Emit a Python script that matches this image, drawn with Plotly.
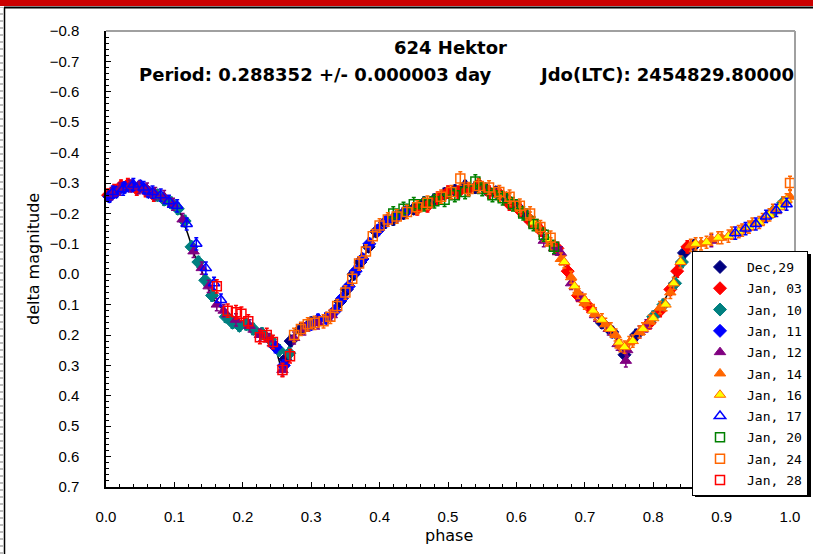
import plotly.graph_objects as go

# ---- light-curve data (phase, delta magnitude) per night ----
dec29_phase = [0.262, 0.27, 0.285, 0.30, 0.342, 0.352, 0.362, 0.372, 0.384, 0.395, 0.408, 0.42, 0.435, 0.45, 0.465,
               0.48, 0.495, 0.51, 0.525, 0.54, 0.555, 0.57, 0.585, 0.60, 0.615, 0.725, 0.74, 0.758, 0.775, 0.845, 0.86]
dec29_mag = [0.28, 0.22, 0.18, 0.16, 0.09, 0.05, 0.00, -0.04, -0.09, -0.14, -0.17, -0.18, -0.20, -0.215, -0.235,
             -0.245, -0.265, -0.275, -0.29, -0.285, -0.28, -0.27, -0.25, -0.225, -0.19, 0.16, 0.19, 0.265, 0.20, -0.07, -0.095]

jan03_phase = [0.003, 0.012, 0.022, 0.032, 0.045, 0.058, 0.07, 0.455, 0.47, 0.485, 0.50, 0.515, 0.53, 0.545, 0.56,
               0.575, 0.59, 0.605, 0.62, 0.635, 0.66, 0.675, 0.69, 0.705, 0.795, 0.81, 0.825, 0.835, 0.85]
jan03_mag = [-0.26, -0.275, -0.29, -0.295, -0.28, -0.275, -0.26, -0.215, -0.225, -0.25, -0.27, -0.27, -0.28, -0.295, -0.27,
             -0.265, -0.23, -0.21, -0.175, -0.145, -0.085, -0.01, 0.07, 0.105, 0.16, 0.12, 0.05, -0.01, -0.09]

jan10_phase = [0.075, 0.085, 0.095, 0.105, 0.115, 0.125, 0.135, 0.145, 0.155, 0.175, 0.185, 0.195, 0.205, 0.215,
               0.228, 0.24, 0.253, 0.268, 0.80, 0.815, 0.832, 0.842, 0.975, 0.99]
jan10_mag = [-0.26, -0.245, -0.235, -0.215, -0.175, -0.09, -0.04, 0.02, 0.07, 0.14, 0.16, 0.17, 0.165, 0.18,
             0.195, 0.215, 0.25, 0.26, 0.14, 0.10, 0.03, -0.04, -0.205, -0.235]

jan11_phase = [0.005, 0.015, 0.027, 0.038, 0.05, 0.062, 0.248, 0.26, 0.30, 0.31, 0.322, 0.335, 0.345, 0.355, 0.365,
               0.375, 0.385, 0.398, 0.41, 0.425, 0.44]
jan11_mag = [-0.255, -0.27, -0.285, -0.29, -0.29, -0.27, 0.24, 0.30, 0.165, 0.15, 0.145, 0.12, 0.08, 0.04, -0.01,
             -0.05, -0.10, -0.145, -0.175, -0.19, -0.21]

jan12_phase = [0.008, 0.02, 0.035, 0.048, 0.06, 0.072, 0.085, 0.098, 0.112, 0.128, 0.14, 0.15, 0.162, 0.172, 0.19,
               0.21, 0.225, 0.238, 0.258, 0.275, 0.29, 0.31, 0.33, 0.64, 0.655, 0.665, 0.68, 0.695, 0.715, 0.735,
               0.748, 0.762, 0.76, 0.78, 0.79, 0.885]
jan12_mag = [-0.265, -0.28, -0.29, -0.285, -0.28, -0.265, -0.255, -0.23, -0.18, -0.075, -0.02, 0.04, 0.10, 0.12, 0.15,
             0.17, 0.20, 0.215, 0.315, 0.21, 0.18, 0.16, 0.135, -0.11, -0.085, -0.07, 0.03, 0.08, 0.135, 0.18,
             0.23, 0.25, 0.285, 0.19, 0.17, -0.11]

jan14_phase = [0.575, 0.59, 0.605, 0.62, 0.63, 0.65, 0.665, 0.68, 0.69, 0.70, 0.715, 0.73, 0.745, 0.752, 0.765, 0.78,
               0.795, 0.81, 0.825, 0.855, 0.87, 0.885, 0.90, 0.915, 0.93, 0.945, 0.96, 0.975, 0.99, 1.0]
jan14_mag = [-0.26, -0.245, -0.215, -0.185, -0.16, -0.10, -0.05, 0.01, 0.06, 0.095, 0.13, 0.165, 0.20, 0.235, 0.225, 0.19,
             0.155, 0.11, 0.06, -0.095, -0.10, -0.115, -0.12, -0.135, -0.145, -0.165, -0.18, -0.21, -0.235, -0.255]

jan16_phase = [0.625, 0.645, 0.67, 0.685, 0.70, 0.712, 0.725, 0.738, 0.75, 0.758, 0.77, 0.785, 0.80, 0.818, 0.83,
               0.84, 0.862, 0.878, 0.895, 0.91, 0.925, 0.94, 0.955, 0.97, 0.985, 0.995]
jan16_mag = [-0.17, -0.115, -0.04, 0.04, 0.085, 0.12, 0.15, 0.18, 0.225, 0.24, 0.22, 0.18, 0.145, 0.10, 0.03,
             -0.04, -0.10, -0.105, -0.12, -0.125, -0.14, -0.155, -0.17, -0.195, -0.22, -0.245]

jan17_phase = [0.01, 0.025, 0.04, 0.055, 0.068, 0.08, 0.092, 0.104, 0.118, 0.132, 0.146, 0.158, 0.168,
               0.92, 0.935, 0.95, 0.965, 0.98, 0.995]
jan17_mag = [-0.27, -0.28, -0.295, -0.285, -0.27, -0.26, -0.24, -0.225, -0.165, -0.10, -0.02, 0.03, 0.085,
             -0.135, -0.15, -0.165, -0.19, -0.21, -0.23]

jan20_phase = [0.42, 0.435, 0.45, 0.465, 0.48, 0.495, 0.51, 0.525, 0.54, 0.55, 0.565, 0.58, 0.595, 0.61, 0.625, 0.64, 0.655]
jan20_mag = [-0.20, -0.215, -0.23, -0.23, -0.24, -0.245, -0.26, -0.27, -0.305, -0.28, -0.26, -0.25, -0.23, -0.20, -0.165, -0.13, -0.09]

jan24_phase = [0.275, 0.285, 0.295, 0.305, 0.318, 0.328, 0.338, 0.35, 0.36, 0.37, 0.38, 0.39, 0.40, 0.412, 0.425,
               0.44, 0.455, 0.47, 0.49, 0.505, 0.518, 0.53, 0.545, 0.56, 0.575, 0.59, 0.605, 0.62, 0.635, 0.65, 1.0]
jan24_mag = [0.20, 0.18, 0.165, 0.16, 0.155, 0.14, 0.105, 0.06, 0.015, -0.035, -0.075, -0.125, -0.16, -0.18, -0.19,
             -0.205, -0.22, -0.235, -0.255, -0.27, -0.315, -0.28, -0.29, -0.285, -0.27, -0.255, -0.225, -0.20, -0.155, -0.12, -0.30]

jan28_phase = [0.162, 0.178, 0.19, 0.198, 0.208, 0.225, 0.235, 0.244, 0.258, 0.269]
jan28_mag = [0.04, 0.12, 0.125, 0.13, 0.155, 0.207, 0.20, 0.223, 0.315, 0.27]

# per-night photometric error (mag)
night_err = [0.018, 0.02, 0.018, 0.018, 0.02, 0.02, 0.02, 0.02, 0.022, 0.022, 0.022]

# fitted Fourier curve sampled in phase
fit_phase = [0.00, 0.01, 0.02, 0.03, 0.04, 0.05, 0.06, 0.07, 0.08, 0.09, 0.10, 0.11, 0.12, 0.13, 0.14, 0.15, 0.16,
             0.17, 0.18, 0.19, 0.20, 0.21, 0.22, 0.23, 0.24, 0.25, 0.255, 0.26, 0.265, 0.27, 0.28, 0.29, 0.30, 0.31,
             0.32, 0.33, 0.34, 0.35, 0.36, 0.37, 0.38, 0.39, 0.40, 0.41, 0.42, 0.43, 0.44, 0.45, 0.46, 0.47, 0.48,
             0.49, 0.50, 0.51, 0.52, 0.53, 0.54, 0.55, 0.56, 0.57, 0.58, 0.59, 0.60, 0.61, 0.62, 0.63, 0.64, 0.65,
             0.66, 0.67, 0.68, 0.69, 0.70, 0.71, 0.72, 0.73, 0.74, 0.75, 0.755, 0.76, 0.77, 0.78, 0.79, 0.80, 0.81,
             0.82, 0.83, 0.84, 0.85, 0.86, 0.87, 0.88, 0.89, 0.90, 0.91, 0.92, 0.93, 0.94, 0.95, 0.96, 0.97, 0.98,
             0.99, 1.00]
fit_mag = [-0.25, -0.27, -0.28, -0.29, -0.29, -0.285, -0.275, -0.265, -0.25, -0.24, -0.225, -0.195, -0.13, -0.06,
           -0.01, 0.05, 0.09, 0.115, 0.13, 0.145, 0.16, 0.175, 0.19, 0.21, 0.23, 0.26, 0.30, 0.30, 0.26, 0.22, 0.19,
           0.17, 0.16, 0.15, 0.145, 0.13, 0.10, 0.05, 0.01, -0.03, -0.07, -0.12, -0.155, -0.175, -0.185, -0.195,
           -0.21, -0.22, -0.225, -0.235, -0.245, -0.26, -0.27, -0.28, -0.285, -0.29, -0.29, -0.285, -0.275, -0.265,
           -0.255, -0.24, -0.225, -0.205, -0.18, -0.15, -0.12, -0.10, -0.08, -0.03, 0.02, 0.06, 0.095, 0.12, 0.145,
           0.17, 0.195, 0.23, 0.25, 0.235, 0.21, 0.185, 0.165, 0.14, 0.115, 0.07, 0.01, -0.04, -0.085, -0.10,
           -0.105, -0.11, -0.115, -0.12, -0.13, -0.14, -0.15, -0.16, -0.17, -0.185, -0.20, -0.22, -0.24, -0.26]

night_names = ["Dec,29", "Jan, 03", "Jan, 10", "Jan, 11", "Jan, 12", "Jan, 14",
               "Jan, 16", "Jan, 17", "Jan, 20", "Jan, 24", "Jan, 28"]
night_phase = [dec29_phase, jan03_phase, jan10_phase, jan11_phase, jan12_phase, jan14_phase,
               jan16_phase, jan17_phase, jan20_phase, jan24_phase, jan28_phase]
night_mag = [dec29_mag, jan03_mag, jan10_mag, jan11_mag, jan12_mag, jan14_mag,
             jan16_mag, jan17_mag, jan20_mag, jan24_mag, jan28_mag]

# marker styles: (symbol, fill, outline, size)
styles = [
    ("diamond", "#000080", "#000080", 10),
    ("diamond", "#ff0000", "#ff0000", 10),
    ("diamond", "#008080", "#008080", 10),
    ("diamond", "#0000ff", "#0000ff", 10),
    ("triangle-up", "#800080", "#800080", 10),
    ("triangle-up", "#ff6600", "#ff6600", 10),
    ("triangle-up", "#ffff00", "#ff6600", 10),
    ("triangle-up-open", "#0000ff", "#0000ff", 10),
    ("square-open", "#008000", "#008000", 9),
    ("square-open", "#ff6600", "#ff6600", 9),
    ("square-open", "#ff0000", "#ff0000", 9),
]

fig = go.Figure()

fig.add_trace(go.Scatter(x=fit_phase, y=fit_mag, mode="lines", line=dict(color="black", width=1.5),
                         showlegend=False, hoverinfo="skip"))

for name, ph, mg, (sym, fill, edge, size), err in zip(night_names, night_phase, night_mag, styles, night_err):
    fig.add_trace(go.Scatter(
        x=ph, y=mg, mode="markers", name=name, legendgroup=name, cliponaxis=False,
        marker=dict(symbol=sym, color=fill, size=size,
                    line=dict(color=edge, width=1.5 if "open" in sym else 1)),
        error_y=dict(type="constant", value=err, color=edge, thickness=1.5, width=2),
    ))

# pixel -> paper helpers for the frame decorations
L, R, T, B = 106, 795, 31, 487
def px(x):
    return (x - L) / (R - L)
def py(y):
    return (B - y) / (B - T)

LEG_L, LEG_T, LEG_R, LEG_B = 692, 251, 808, 494

shapes = [
    # red band and black rule across the top of the page
    dict(type="rect", xref="paper", yref="paper", x0=px(0), x1=px(813), y0=py(6), y1=py(0),
         fillcolor="#cc0000", line=dict(width=0), layer="above"),
    dict(type="line", xref="paper", yref="paper", x0=px(4), x1=px(813), y0=py(7.5), y1=py(7.5),
         line=dict(color="black", width=2), layer="above"),
    # left page border with dotted edge
    dict(type="line", xref="paper", yref="paper", x0=px(4.5), x1=px(4.5), y0=py(554), y1=py(7),
         line=dict(color="black", width=1.5), layer="above"),
    dict(type="line", xref="paper", yref="paper", x0=px(1.5), x1=px(1.5), y0=py(554), y1=py(7),
         line=dict(color="#bdbdbd", width=3, dash="2px,5px"), layer="above"),
    # grey top and right edges of the plot frame
    dict(type="line", xref="paper", yref="paper", x0=0, x1=1, y0=1, y1=1,
         line=dict(color="#a0a0a0", width=2), layer="above"),
    dict(type="line", xref="paper", yref="paper", x0=1, x1=1, y0=0, y1=1,
         line=dict(color="#a0a0a0", width=2), layer="above"),
    # legend drop shadow
    dict(type="rect", xref="paper", yref="paper", x0=px(LEG_L + 3), x1=px(LEG_R + 3),
         y0=py(LEG_B + 3), y1=py(LEG_T + 3),
         fillcolor="black", line=dict(width=0), layer="above"),
]

title_font = dict(family="DejaVu Sans, sans-serif", size=18, color="black")
label_font = dict(family="DejaVu Sans, sans-serif", size=16, color="black")
annotations = [
    dict(text="<b>624 Hektor</b>", x=px(450), y=py(48), xref="paper", yref="paper",
         showarrow=False, xanchor="center", yanchor="middle", font=title_font),
    dict(text="<b>Period: 0.288352 +/- 0.000003 day</b>", x=px(137), y=py(74), xref="paper", yref="paper",
         showarrow=False, xanchor="left", yanchor="middle", font=title_font),
    dict(text="<b>Jdo(LTC): 2454829.80000</b>", x=px(796), y=py(74), xref="paper", yref="paper",
         showarrow=False, xanchor="right", yanchor="middle", font=title_font),
    dict(text="delta magnitude", x=px(33), y=py(259), xref="paper", yref="paper", textangle=-90,
         showarrow=False, xanchor="center", yanchor="middle", font=label_font),
    dict(text="phase", x=px(449), y=py(535), xref="paper", yref="paper",
         showarrow=False, xanchor="center", yanchor="middle", font=label_font),
]

tick_font = dict(family="Liberation Sans Narrow, Liberation Sans, sans-serif", size=15, color="black")

fig.update_layout(
    width=813, height=554,
    margin=dict(l=L, r=813 - R, t=T, b=554 - B, autoexpand=False),
    paper_bgcolor="white", plot_bgcolor="white",
    shapes=shapes, annotations=annotations,
    xaxis=dict(range=[0, 1.0073], tickvals=[i / 10 for i in range(11)], tickformat=".1f",
               showgrid=False, zeroline=False, showline=True, linecolor="black", linewidth=1.5,
               ticks="inside", ticklen=5, tickcolor="black", tickfont=tick_font, ticklabelstandoff=15,
               minor=dict(dtick=0.02, ticks="inside", ticklen=3, tickcolor="black")),
    yaxis=dict(range=[0.7, -0.8], tickvals=[round(-0.8 + i / 10, 1) for i in range(16)], tickformat=".1f",
               showgrid=False, zeroline=False, showline=True, linecolor="black", linewidth=1.5,
               ticks="inside", ticklen=5, tickcolor="black", tickfont=tick_font, ticklabelstandoff=22,
               minor=dict(dtick=0.02, ticks="inside", ticklen=3, tickcolor="black")),
    legend=dict(x=px(LEG_L), y=py(LEG_T), xanchor="left", yanchor="top",
                bgcolor="white", bordercolor="black", borderwidth=1,
                font=dict(family="DejaVu Sans Mono, monospace", size=13, color="black"),
                itemwidth=44, tracegroupgap=1.4),
    showlegend=True,
)

fig.write_html("out.html")
